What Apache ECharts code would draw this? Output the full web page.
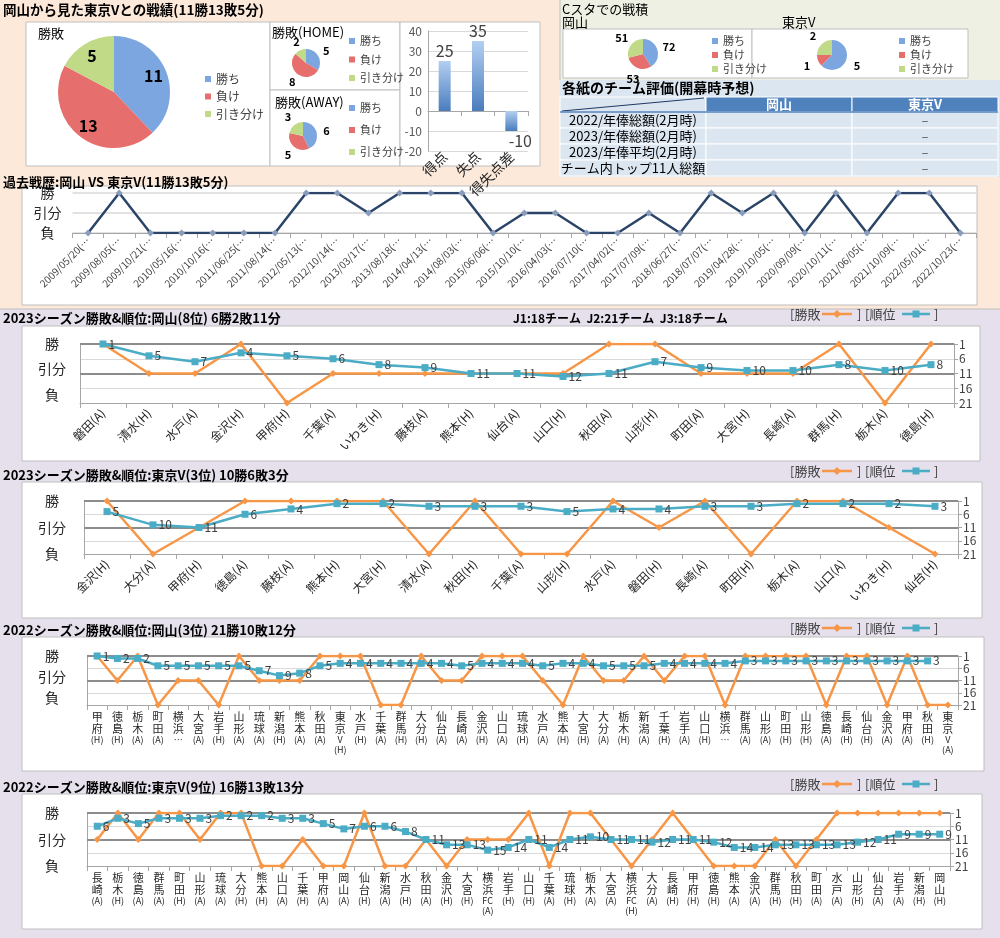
<!DOCTYPE html>
<html><head><meta charset="utf-8">
<script src="https://cdn.jsdelivr.net/npm/echarts@6/dist/echarts.min.js"></script>
<style>html,body{margin:0;padding:0;background:#fff}#c{width:1000px;height:938px}</style>
</head><body><div id="c"></div>
<script>
// ---------------- DATA ----------------
const resultNames = ['勝ち', '負け', '引き分け'];
const vsTotal = [11, 13, 5];
const vsHome = [5, 8, 2];
const vsAway = [6, 5, 3];
const goalCats = ['得点', '失点', '得失点差'];
const goalVals = [25, 35, -10];
const cstaOkayama = [72, 53, 51];
const cstaTokyo = [5, 1, 2];

const tableColLabels = ['岡山', '東京V'];
const tableRowLabels = ['2022/年俸総額(2月時)', '2023/年俸総額(2月時)', '2023/年俸平均(2月時)', 'チーム内トップ11人総額'];
const tableOkayama = ['', '', '', ''];
const tableTokyo = ['–', '–', '–', '–'];

const histLabels = ['負', '引分', '勝'];
const wlLabels = ['勝', '引分', '負'];
const historyDates = ['2009/05/20(…','2009/08/05(…','2009/10/21(…','2010/05/16(…','2010/10/16(…','2011/06/25(…','2011/08/14(…','2012/05/13(…','2012/10/14(…','2013/03/17(…','2013/08/18(…','2014/04/13(…','2014/08/03(…','2015/06/06(…','2015/10/10(…','2016/04/03(…','2016/07/10(…','2017/04/02(…','2017/07/09(…','2018/06/27(…','2018/07/07(…','2019/04/28(…','2019/10/05(…','2020/09/09(…','2020/10/11(…','2021/06/05(…','2021/10/09(…','2022/05/01(…','2022/10/23(…'];
const historyResults = ['L','W','L','L','L','L','L','W','W','D','W','W','W','L','D','D','L','L','D','L','W','D','W','L','W','L','W','W','L'];

const s23okCats = ['磐田(A)','清水(H)','水戸(A)','金沢(H)','甲府(H)','千葉(A)','いわき(H)','藤枝(A)','熊本(H)','仙台(A)','山口(H)','秋田(A)','山形(H)','町田(A)','大宮(H)','長崎(A)','群馬(H)','栃木(A)','徳島(H)'];
const s23okRanks = [1,5,7,4,5,6,8,9,11,11,12,11,7,9,10,10,8,10,8];
const s23okResults = ['W','D','D','W','L','D','D','D','D','D','D','W','W','D','D','D','W','L','W'];

const s23tvCats = ['金沢(H)','大分(A)','甲府(H)','徳島(A)','藤枝(A)','熊本(H)','大宮(H)','清水(A)','秋田(H)','千葉(A)','山形(H)','水戸(A)','磐田(H)','長崎(A)','町田(H)','栃木(A)','山口(A)','いわき(H)','仙台(H)'];
const s23tvRanks = [5,10,11,6,4,2,2,3,3,3,5,4,4,3,3,2,2,2,3];
const s23tvResults = ['W','L','D','W','W','W','W','L','W','L','L','W','D','W','L','W','W','D','L'];

const s22okCats = ['甲府(H)','徳島(H)','栃木(A)','町田(A)','横浜…','大宮(A)','岩手(H)','山形(A)','琉球(A)','新潟(H)','熊本(A)','秋田(A)','東京V(H)','水戸(H)','千葉(A)','群馬(H)','大分(H)','仙台(A)','長崎(A)','金沢(H)','山口(A)','琉球(H)','水戸(A)','熊本(H)','大宮(H)','大分(A)','栃木(H)','新潟(A)','千葉(H)','岩手(A)','山口(H)','横浜…','群馬(A)','山形(A)','町田(H)','山形(H)','徳島(A)','長崎(H)','仙台(H)','金沢(A)','甲府(A)','秋田(H)','東京V(A)'];
const s22okRanks = [1,2,2,5,5,5,5,5,7,9,8,5,4,4,4,4,4,4,5,4,4,4,5,4,4,5,5,5,4,4,4,4,3,3,3,3,3,3,3,3,3,3,null];
const s22okResults = ['W','D','W','L','D','D','L','W','D','D','D','W','W','W','L','L','W','D','D','W','W','W','D','L','W','D','D','W','D','W','W','L','W','W','W','W','L','W','W','L','W','L','L'];

const s22tvCats = ['長崎(A)','栃木(H)','徳島(A)','群馬(A)','町田(H)','山形(A)','琉球(A)','大分(H)','熊本(H)','山口(A)','千葉(H)','甲府(A)','岡山(A)','仙台(H)','新潟(A)','水戸(H)','秋田(A)','金沢(H)','大宮(H)','横浜FC(A)','岩手(H)','山口(H)','千葉(A)','琉球(H)','栃木(A)','大宮(A)','横浜FC(H)','大分(A)','長崎(H)','甲府(H)','徳島(H)','熊本(A)','金沢(A)','群馬(H)','秋田(H)','町田(A)','水戸(A)','山形(H)','仙台(A)','岩手(A)','新潟(H)','岡山(H)'];
const s22tvRanks = [6,3,5,3,3,3,2,2,2,3,3,5,7,6,6,8,11,13,13,15,14,11,14,11,10,11,11,12,11,11,12,14,14,13,13,13,13,12,11,9,9,9];
const s22tvResults = ['D','W','D','W','W','D','W','W','L','L','D','L','L','W','L','L','D','L','D','D','D','W','L','W','W','D','L','D','W','D','L','L','L','D','L','D','W','W','W','W','W','W'];

// ---------------- STYLE ----------------
const FONT = '"Noto Sans CJK JP","Noto Sans",sans-serif';
const C_BLUE = '#7ba6df', C_RED = '#e66f6d', C_GREEN = '#c0da88';
const C_ORANGE = '#f79646', C_TEAL = '#4bacc6';
const AX = '#a6a6a6', GRIDC = '#d9d9d9', TXT = '#262626';
const resultLevel = {W: 1, D: 11, L: 21};
const histLevel = {W: 2, D: 1, L: 0};

const grids = [], xAxes = [], yAxes = [], series = [], legends = [], g = [];

function rect(x, y, w, h, fill, stroke, z) {
  return {type: 'rect', shape: {x, y, width: w, height: h}, style: {fill, stroke: stroke || null, lineWidth: stroke ? 1 : 0}, z: z == null ? -5 : z, silent: true};
}
function txt(x, y, text, size, opt) {
  opt = opt || {};
  return {type: 'text', x, y, z: opt.z == null ? 1 : opt.z, silent: true,
    style: {text, fill: opt.color || '#000', font: (opt.bold ? 'bold ' : '') + size + 'px ' + FONT,
      textAlign: opt.align || 'left', textVerticalAlign: 'middle'}};
}
function line(x1, y1, x2, y2, stroke, w, z) {
  return {type: 'line', shape: {x1, y1, x2, y2}, style: {stroke, lineWidth: w || 1}, z: z == null ? -4 : z, silent: true};
}

// ---------------- BACKGROUNDS ----------------
g.push(rect(0, 0, 1000, 309, '#fde9d9', null, -10));
g.push(rect(0, 309, 1000, 629, '#e5e0ec', null, -10));
g.push(rect(560, 0, 440, 80, '#edf0e2', null, -9));
g.push(rect(560, 80, 440, 97, '#dce6f1', null, -9));
g.push(line(0, 309, 1000, 309, '#bfbfbf', 1, -8));
g.push(line(560, 0, 560, 80, '#bfbfbf', 1, -8));
// white boxes
[[26,22,244,144],[270,22,130,68],[270,90,130,76],[400,22,140,144],[563,29,189,49],[752,29,216,49],
 [22,186,955,119],[22,326,958,135],[22,482,960,136],[22,637,962,134],[22,794,960,135]]
 .forEach(b => g.push(rect(b[0], b[1], b[2], b[3], '#ffffff', '#bfbfbf', -5)));

// ---------------- TEXTS ----------------
g.push(txt(3, 10, '岡山から見た東京Vとの戦績(11勝13敗5分)', 13.5, {bold: true}));
g.push(txt(38, 33, '勝敗', 13));
g.push(txt(272, 32, '勝敗(HOME)', 13));
g.push(txt(275, 102, '勝敗(AWAY)', 13));
g.push(txt(562, 9, 'Cスタでの戦積', 13));
g.push(txt(562, 22, '岡山', 13));
g.push(txt(782, 22, '東京V', 13));
g.push(txt(562, 88, '各紙のチーム評価(開幕時予想)', 14, {bold: true}));
g.push(txt(3, 182, '過去戦歴:岡山 VS 東京V(11勝13敗5分)', 13, {bold: true}));
g.push(txt(3, 318, '2023シーズン勝敗&順位:岡山(8位) 6勝2敗11分', 13, {bold: true}));
g.push(txt(513, 318, 'J1:18チーム  J2:21チーム  J3:18チーム', 12, {bold: true}));
g.push(txt(3, 475, '2023シーズン勝敗&順位:東京V(3位) 10勝6敗3分', 13, {bold: true}));
g.push(txt(3, 630, '2022シーズン勝敗&順位:岡山(3位) 21勝10敗12分', 13, {bold: true}));
g.push(txt(3, 787, '2022シーズン勝敗&順位:東京V(9位) 16勝13敗13分', 13, {bold: true}));

// ---------------- TABLE ----------------
const TX = [560, 706, 852, 998];
g.push(rect(TX[0], 97, 146, 15, '#dce6f1', '#ffffff', -3));
g.push(rect(TX[1], 97, 146, 15, '#4f81bd', '#ffffff', -3));
g.push(rect(TX[2], 97, 146, 15, '#4f81bd', '#ffffff', -3));
g.push(line(562, 111, 704, 98, '#1f3864', 1, -2));
tableColLabels.forEach((t, i) => g.push(txt((TX[i + 1] + TX[i + 2]) / 2, 104.5, t, 13, {bold: true, color: '#ffffff', align: 'center'})));
tableRowLabels.forEach((t, r) => {
  const y = 112 + r * 16;
  for (let c = 0; c < 3; c++) g.push(rect(TX[c], y, TX[c + 1] - TX[c], 16, '#dce6f1', '#ffffff', -3));
  g.push(txt(633, y + 8, t, 13, {align: 'center'}));
  g.push(txt(779, y + 8, tableOkayama[r], 13, {align: 'center', color: '#595959'}));
  g.push(txt(925, y + 8, tableTokyo[r], 13, {align: 'center', color: '#595959'}));
});
g.push(line(560, 112, 998, 112, '#4f81bd', 1.5, -2));

// ---------------- SEASON LEGENDS ----------------
function seasonLegend(y) {
  g.push(txt(790, y, '[勝敗', 13, {color: '#404040', z: 5}));
  g.push(line(822, y, 852, y, C_ORANGE, 2.5, 5));
  g.push({type: 'polygon', shape: {points: [[837, y - 4], [841, y], [837, y + 4], [833, y]]}, style: {fill: C_ORANGE}, z: 6, silent: true});
  g.push(txt(857, y, ']', 13, {color: '#404040', z: 5}));
  g.push(txt(865, y, '[順位', 13, {color: '#404040', z: 5}));
  g.push(line(902, y, 930, y, C_TEAL, 2.5, 5));
  g.push(rect(912.5, y - 3.5, 7, 7, C_TEAL, null, 6));
  g.push(txt(934, y, ']', 13, {color: '#404040', z: 5}));
}
seasonLegend(314);
seasonLegend(471);
seasonLegend(628);
seasonLegend(784);

// ---------------- PIES ----------------
function pie(values, center, r, labelR, fontSize) {
  const data = resultNames.map((n, i) => ({name: n, value: values[i]}));
  series.push({type: 'pie', center, radius: [0, r], data, color: [C_BLUE, C_RED, C_GREEN],
    label: {show: false}, labelLine: {show: false}, silent: true, emphasis: {disabled: true}, itemStyle: {borderWidth: 0}});
  series.push({type: 'pie', center, radius: labelR, data, color: [C_BLUE, C_RED, C_GREEN],
    itemStyle: {color: 'transparent', borderWidth: 0}, silent: true, emphasis: {disabled: true}, z: 4,
    label: {show: true, position: 'inside', formatter: '{c}', fontSize, fontWeight: 'bold', color: '#000'}, labelLine: {show: false}});
}
pie(vsTotal, [114, 92], 56, [23, 56], 16);
pie(vsHome, [306, 63], 14, [15, 26], 11);
pie(vsAway, [303, 136], 14, [15, 27], 11);
pie(cstaOkayama, [643, 54], 15, [18, 30], 11);
pie(cstaTokyo, [832, 55], 15, [18, 30], 11);

function legend(left, top, gap, size, lh) {
  legends.push({left, top, orient: 'vertical', data: resultNames, icon: 'rect', itemWidth: 6, itemHeight: 6,
    itemGap: gap, selectedMode: false, padding: 0, textStyle: {fontSize: size, lineHeight: lh, color: '#404040', fontFamily: FONT}});
}
legend(205, 72, 3.5, 12, 14);
legend(349, 35, 6.5, 11, 12);
legend(349, 102, 10, 11, 12);
legend(712, 35, 2, 11, 12);
legend(899, 35, 2, 11, 12);

// ---------------- BAR (goals) ----------------
grids.push({left: 428, top: 31, width: 100, height: 120});
xAxes.push({type: 'category', gridIndex: 0, data: goalCats,
  axisLine: {onZero: true, lineStyle: {color: AX}}, axisTick: {show: true, lineStyle: {color: AX}},
  axisLabel: {rotate: 45, fontSize: 14, color: TXT, margin: 3, interval: 0}});
yAxes.push({type: 'value', gridIndex: 0, min: -20, max: 40, interval: 10,
  axisLine: {show: true, lineStyle: {color: AX}}, axisTick: {show: false},
  splitLine: {lineStyle: {color: GRIDC}}, axisLabel: {fontSize: 12, color: '#595959', margin: 6}});
series.push({type: 'bar', xAxisIndex: 0, yAxisIndex: 0, barWidth: 12,
  data: goalVals.map(v => ({value: v, label: v < 0 ? {position: 'bottom', offset: [9, 0]} : {position: 'top'}})),
  itemStyle: {color: new echarts.graphic.LinearGradient(0, 0, 0, 1, [{offset: 0, color: '#b3cff2'}, {offset: 1, color: '#4a7dbd'}])},
  label: {show: true, fontSize: 16, color: '#404040', distance: 2}, z: 3});

// ---------------- HISTORY ----------------
grids.push({left: 72.5, top: 193, width: 903.5, height: 40});
xAxes.push({type: 'category', gridIndex: 1, data: historyDates,
  axisLine: {onZero: false, lineStyle: {color: AX}}, axisTick: {show: true, length: 5, lineStyle: {color: AX}},
  axisLabel: {interval: 0, rotate: 45, fontSize: 10, color: '#404040', margin: 6}});
yAxes.push({type: 'value', gridIndex: 1, min: 0, max: 2, interval: 1,
  axisLine: {show: false}, axisTick: {show: false}, splitLine: {lineStyle: {color: GRIDC, width: 1.5}},
  axisLabel: {formatter: v => histLabels[v] ?? '', fontSize: 14, color: TXT, align: 'center', margin: 25}});
series.push({type: 'line', xAxisIndex: 1, yAxisIndex: 1, data: historyResults.map(r => histLevel[r]),
  symbol: 'diamond', symbolSize: 7, lineStyle: {color: '#2b4568', width: 2.5}, itemStyle: {color: '#8a9cbb'}});

// ---------------- SEASONS ----------------
function vertLabel(s) {
  const lines = []; let buf = '';
  for (const ch of s) {
    if (/[A-Za-z0-9()…]/.test(ch)) {
      if (ch === '(' && buf) { lines.push('{l|' + buf + '}'); buf = ''; }
      buf += ch;
    } else {
      if (buf) { lines.push('{l|' + buf + '}'); buf = ''; }
      lines.push('{c|' + ch + '}');
    }
  }
  if (buf) lines.push('{l|' + buf + '}');
  return lines.join('\n');
}
function addSeason(cats, ranks, results, grid, leftMax, vertical) {
  const gi = grids.length;
  grids.push(grid);
  xAxes.push({type: 'category', gridIndex: gi, data: cats,
    axisLine: {onZero: false, lineStyle: {color: AX}}, axisTick: {show: true, length: 5, lineStyle: {color: AX}},
    axisLabel: vertical
      ? {interval: 0, formatter: vertLabel, margin: 6,
         rich: {c: {fontSize: 11, lineHeight: 12, color: TXT, fontFamily: FONT}, l: {fontSize: 9, lineHeight: 10, color: TXT, fontFamily: FONT}}}
      : {interval: 0, rotate: 45, fontSize: 12, color: TXT, margin: 8}});
  const yl = yAxes.length;
  yAxes.push({type: 'value', gridIndex: gi, position: 'left', inverse: true, min: 0, max: leftMax, interval: 1,
    axisLine: {show: true, lineStyle: {color: AX}}, axisTick: {show: false}, splitLine: {show: false},
    axisLabel: {formatter: v => wlLabels[v] ?? '', fontSize: 14, color: TXT, align: 'center', margin: grid.left - 52}});
  yAxes.push({type: 'value', gridIndex: gi, position: 'right', inverse: true, min: 1, max: 21, interval: 5,
    axisLine: {show: true, lineStyle: {color: AX}}, axisTick: {show: true, length: 4, lineStyle: {color: AX}},
    splitLine: {show: true, lineStyle: {color: GRIDC}}, axisLabel: {fontSize: 12, color: '#404040', margin: 5}});
  series.push({type: 'line', name: '勝敗', xAxisIndex: gi, yAxisIndex: yl + 1, data: results.map(r => resultLevel[r]),
    symbol: 'diamond', symbolSize: 7, lineStyle: {color: C_ORANGE, width: 2.5}, itemStyle: {color: C_ORANGE}, z: 3,
    markLine: {z: 1, silent: true, symbol: 'none', label: {show: false}, animation: false,
      lineStyle: {color: '#8c8c8c', width: 2, type: 'solid'}, data: [{yAxis: 1}, {yAxis: 11}]}});
  series.push({type: 'line', name: '順位', xAxisIndex: gi, yAxisIndex: yl + 1, data: ranks,
    symbol: 'rect', symbolSize: 7, lineStyle: {color: C_TEAL, width: 2.5}, itemStyle: {color: C_TEAL}, z: 4,
    label: {show: true, position: 'right', distance: 2, fontSize: 12, color: '#404040'}});
}
addSeason(s23okCats, s23okRanks, s23okResults, {left: 80, top: 344, width: 874, height: 59}, 2.35, false);
addSeason(s23tvCats, s23tvRanks, s23tvResults, {left: 84, top: 501, width: 874, height: 53}, 2, false);
addSeason(s22okCats, s22okRanks, s22okResults, {left: 87, top: 656, width: 871, height: 49}, 2.35, true);
addSeason(s22tvCats, s22tvRanks, s22tvResults, {left: 87, top: 813, width: 863, height: 53}, 2, true);

// ---------------- CHART ----------------
const chart = echarts.init(document.getElementById('c'), null, {renderer: 'canvas'});
chart.setOption({
  animation: false,
  textStyle: {fontFamily: FONT},
  graphic: {elements: g},
  legend: legends,
  grid: grids,
  xAxis: xAxes,
  yAxis: yAxes,
  series
});
</script>
</body></html>
